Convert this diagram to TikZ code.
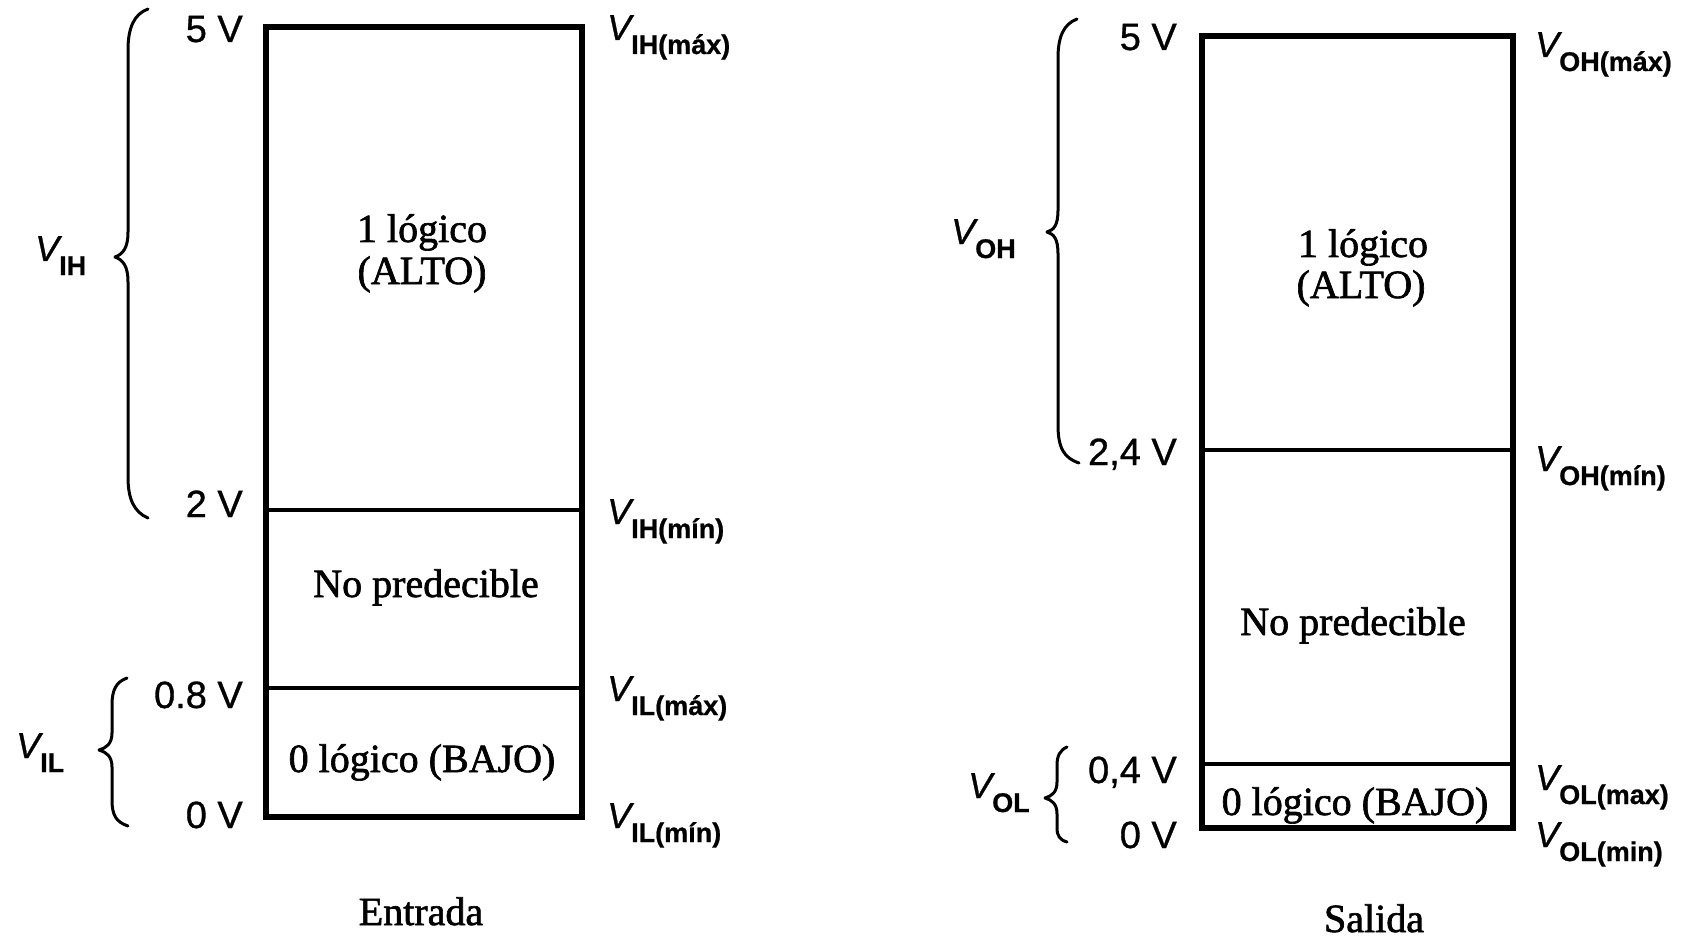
\documentclass[tikz,border=0pt]{standalone}
\usepackage{fontspec}
\setmainfont{Liberation Serif}
\newfontfamily\heavyserif[FakeBold=1.6]{Liberation Serif}
\newfontfamily\lsans[FakeBold=0.8]{Liberation Sans}
\newcommand\vlab[1]{{\lsans\fontsize{36}{36}\selectfont\itshape V}\raisebox{-14pt}{\lsans\fontsize{27}{27}\selectfont\bfseries #1}}
\begin{document}
\begin{tikzpicture}[x=1pt,y=-1pt,
  outer/.style={line width=6.5pt,line join=miter},
  inner/.style={line width=4pt},
  brace/.style={line width=3pt,line cap=round,line join=round},
  boxtext/.style={inner sep=0pt,anchor=base,font=\heavyserif\fontsize{40}{40}\selectfont},
  volt/.style={inner sep=0pt,anchor=base east,font=\lsans\fontsize{38}{38}\selectfont},
  lab/.style={inner sep=0pt,anchor=base west}]
\useasboundingbox (0,0) rectangle (1693,941);

% ---------- Entrada ----------
\coordinate (LA) at (266,27);
\coordinate (LB) at (582,817);
\draw[outer] (LA) rectangle (LB);
\draw[inner] (266,510) -- (582,510);
\draw[inner] (266,688) -- (582,688);

\node[boxtext] (l1a) at (422,242) {1 lógico};
\node[boxtext] (l1b) at (422,284) {(ALTO)};
\node[boxtext] (lnp) at (426,597) {No predecible};
\node[boxtext] (l0) at (422,772) {0 lógico (BAJO)};
\node[boxtext] (lent) at (421,925) {Entrada};

\node[volt] (v5a) at (243,42) {5 V};
\node[volt] (v2a) at (243,517) {2 V};
\node[volt] (v08) at (243,708) {0.8 V};
\node[volt] (v0a) at (243,828) {0 V};

\node[lab] (lihmax) at (607,40) {\vlab{IH(máx)}};
\node[lab] (lihmin) at (607,524) {\vlab{IH(mín)}};
\node[lab] (lilmax) at (607,701) {\vlab{IL(máx)}};
\node[lab] (lilmin) at (607,828) {\vlab{IL(mín)}};

\node[lab] (lih) at (35,261) {\vlab{IH}};
\node[lab] (lil) at (16,758) {\vlab{IL}};

\draw[brace] (148,9) .. controls (134,14) and (128,28) .. (128,50) -- (128,232)
  .. controls (128,248) and (123,254) .. (115,257)
  .. controls (123,260) and (128,266) .. (128,282) -- (128,477)
  .. controls (128,499) and (134,512) .. (148,518);
\draw[brace] (127,678) .. controls (116,682) and (112,690) .. (112,705) -- (112,733)
  .. controls (112,744) and (106,748) .. (99,750)
  .. controls (106,752) and (112,756) .. (112,767) -- (112,800)
  .. controls (112,815) and (116,822) .. (128,826);

% ---------- Salida ----------
\coordinate (RA) at (1202,36);
\coordinate (RB) at (1513,828);
\draw[outer] (RA) rectangle (RB);
\draw[inner] (1202,450) -- (1513,450);
\draw[inner] (1202,764) -- (1513,764);

\node[boxtext] (r1a) at (1363,257) {1 lógico};
\node[boxtext] (r1b) at (1361,298) {(ALTO)};
\node[boxtext] (rnp) at (1353,635) {No predecible};
\node[boxtext] (r0) at (1355,815) {0 lógico (BAJO)};
\node[boxtext] (rsal) at (1374,932) {Salida};

\node[volt] (v5b) at (1177,50) {5 V};
\node[volt] (v24) at (1177,465) {2,4 V};
\node[volt] (v04) at (1177,783) {0,4 V};
\node[volt] (v0b) at (1177,848) {0 V};

\node[lab] (lohmax) at (1535,57) {\vlab{OH(máx)}};
\node[lab] (lohmin) at (1535,471) {\vlab{OH(mín)}};
\node[lab] (lolmax) at (1535,790) {\vlab{OL(max)}};
\node[lab] (lolmin) at (1535,847) {\vlab{OL(min)}};

\node[lab] (loh) at (951,244) {\vlab{OH}};
\node[lab] (lol) at (968,798) {\vlab{OL}};

\draw[brace] (1077,19) .. controls (1064,24) and (1058,36) .. (1058,58) -- (1058,210)
  .. controls (1058,225) and (1054,230) .. (1047,232)
  .. controls (1054,234) and (1058,239) .. (1058,254) -- (1058,425)
  .. controls (1058,448) and (1064,458) .. (1079,463);
\draw[brace] (1067,747) .. controls (1060,750) and (1057,756) .. (1057,765) -- (1057,782)
  .. controls (1057,792) and (1052,796) .. (1045,798)
  .. controls (1052,800) and (1057,804) .. (1057,814) -- (1057,828)
  .. controls (1057,836) and (1060,840) .. (1067,842);
\end{tikzpicture}
\end{document}
